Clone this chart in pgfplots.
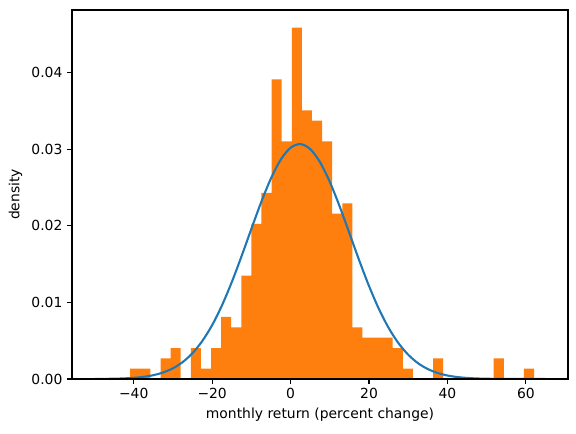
\documentclass[border=0pt]{standalone}
\usepackage{pgfplots}
\pgfplotsset{compat=1.18}
\usepackage{fontspec}
\setmainfont{DejaVu Sans}
\definecolor{mplorange}{HTML}{FF7F0E}
\definecolor{mplblue}{HTML}{1F77B4}
\begin{document}
\begin{tikzpicture}
\begin{axis}[
  scale only axis, width=372pt, height=276.75pt,
  xmin=-55.75, xmax=70.75, ymin=0, ymax=0.0482,
  axis on top,
  axis line style={line width=0.83pt},
  tick style={black, line width=0.83pt},
  major tick length=3.65pt,
  tick align=outside, xtick pos=lower, ytick pos=left,
  xtick={-40,-20,0,20,40,60},
  xticklabels={−40,−20,0,20,40,60},
  ytick={0,0.01,0.02,0.03,0.04},
  yticklabels={0.00,0.01,0.02,0.03,0.04},
  scaled y ticks=false,
  ticklabel style={font=\fontsize{10.42}{12}\selectfont},
  label style={font=\fontsize{10.42}{12}\selectfont},
  xlabel={monthly return (percent change)},
  ylabel={density},
]
\addplot[ybar interval, fill=mplorange, draw=none] coordinates {
(-40.9,0.00135) (-38.325,0.00135) (-35.75,0) (-33.175,0.0027) (-30.6,0.00405)
(-28.025,0) (-25.45,0.00405) (-22.875,0.00135) (-20.3,0.00405) (-17.725,0.0081)
(-15.15,0.00675) (-12.575,0.0135) (-10.0,0.02025) (-7.425,0.0243) (-4.85,0.03915)
(-2.275,0.03105) (0.3,0.0459) (2.875,0.0351) (5.45,0.03375) (8.025,0.03105)
(10.6,0.0216) (13.175,0.02295) (15.75,0.00675) (18.325,0.0054) (20.9,0.0054)
(23.475,0.0054) (26.05,0.00405) (28.625,0.00135) (31.2,0) (33.775,0)
(36.35,0.0027) (38.925,0) (41.5,0) (44.075,0) (46.65,0)
(49.225,0) (51.8,0.0027) (54.375,0) (56.95,0) (59.525,0.00135)
(62.1,0)
};
\addplot[mplblue, line width=1.56pt, smooth] coordinates {
(-50,0.0000094) (-47.5,0.000020) (-45,0.000041) (-42.5,0.000081) (-40,0.000154)
(-37.5,0.000283) (-35,0.000500) (-32.5,0.000853) (-30,0.001401) (-27.5,0.002219)
(-25,0.003385) (-22.5,0.004975) (-20,0.007046) (-17.5,0.009621) (-15,0.012659)
(-12.5,0.016053) (-10,0.019616) (-7.5,0.023099) (-5,0.026212) (-2.5,0.028667)
(0,0.030212) (2.5,0.030685) (5,0.030034) (7.5,0.028330) (10,0.025751)
(12.5,0.022559) (15,0.019043) (17.5,0.015492) (20,0.012147) (22.5,0.009176)
(25,0.006681) (27.5,0.004689) (30,0.003170) (32.5,0.002066) (35,0.001297)
(37.5,0.000785) (40,0.000458) (42.5,0.000257) (45,0.000139) (47.5,0.000073)
(50,0.000037) (52.5,0.000018) (55,0.0000083) (57.5,0.0000037) (60,0.0000016)
(62.5,0.0000007) (65,0.0000003)
};
\end{axis}
\pgfresetboundingbox
\path ([xshift=-54pt,yshift=-40.5pt]current axis.south west) rectangle ([xshift=6pt,yshift=7.5pt]current axis.north east);
\end{tikzpicture}
\end{document}
